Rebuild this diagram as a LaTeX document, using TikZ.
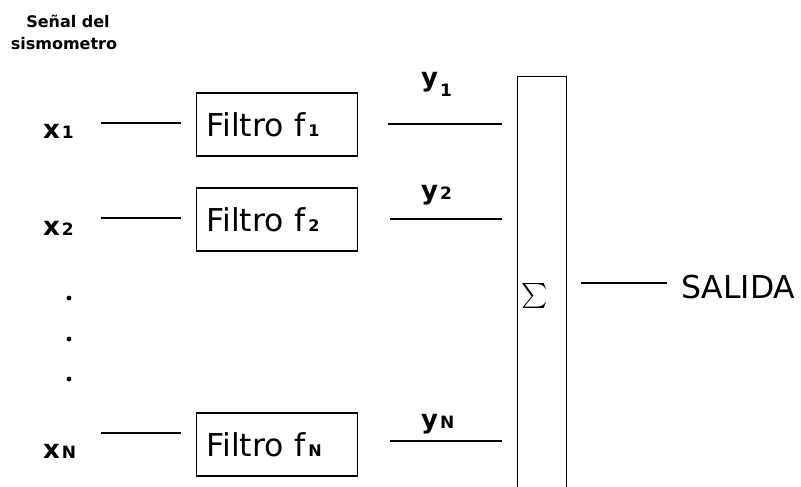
\documentclass[tikz,border=0pt]{standalone}
\usepackage{fontspec}
\setmainfont{DejaVu Sans}
\begin{document}
\begin{tikzpicture}[x=1pt,y=-1pt,
  filt/.style={draw, line width=1.2pt, minimum height=63pt, text width=141pt,
    inner xsep=10pt, inner ysep=0pt, align=left,
    font=\fontsize{31.5}{36}\selectfont},
  lab/.style={font=\bfseries\fontsize{26}{30}\selectfont, inner sep=0pt, anchor=base west},
  hdr/.style={font=\bfseries\fontsize{16}{19}\selectfont, inner sep=0pt, anchor=base},
  conn/.style={line width=1.1pt},
  boxline/.style={line width=1.3pt}]
\useasboundingbox (0,0) rectangle (801,487);
\newcommand{\fsub}[1]{\kern3pt{\bfseries\fontsize{16}{18}\selectfont #1}}
\newcommand{\lsub}[1]{\kern2pt{\fontsize{17}{19}\selectfont #1}}

% header
\node[hdr] (h1) at (68,28) {Señal del};
\node[hdr] (h2) at (64,50) {sismometro};

% input labels
\node[lab] (x1) at (43,138) {x\lsub{1}};
\node[lab] (x2) at (43,235) {x\lsub{2}};
\node[lab] (xN) at (43,458) {x\lsub{N}};

% dots
\fill (69,298) circle[radius=2.4pt];
\fill (69,339) circle[radius=2.4pt];
\fill (69,379) circle[radius=2.4pt];

% filter boxes
\node[filt] (f1) at (277,124.5) {Filtro f\fsub{1}};
\node[filt] (f2) at (277,219.5) {Filtro f\fsub{2}};
\node[filt] (fN) at (277,444.5) {Filtro f\fsub{N}};

% input connectors
\coordinate (i1a) at (101,123); \coordinate (i1b) at (181,123);
\coordinate (i2a) at (101,218); \coordinate (i2b) at (181,218);
\coordinate (iNa) at (101,433); \coordinate (iNb) at (181,433);
\draw[conn] (i1a) -- (i1b);
\draw[conn] (i2a) -- (i2b);
\draw[conn] (iNa) -- (iNb);

% output connectors
\coordinate (o1a) at (388,124); \coordinate (o1b) at (502,124);
\coordinate (o2a) at (390,219); \coordinate (o2b) at (502,219);
\coordinate (oNa) at (390,441); \coordinate (oNb) at (502,441);
\draw[conn] (o1a) -- (o1b);
\draw[conn] (o2a) -- (o2b);
\draw[conn] (oNa) -- (oNb);

% output labels
\node[lab] (y1) at (421,86) {y\kern2pt\raisebox{-10pt}{\fontsize{17}{19}\selectfont 1}};
\node[lab] (y2) at (421,199) {y\lsub{2}};
\node[lab] (yN) at (421,428) {y\lsub{N}};

% summation box (open at bottom)
\node[minimum width=48pt, minimum height=410pt, inner sep=0pt] (sumbox) at (542,282) {};
\draw[boxline] (sumbox.south west) -- (sumbox.north west) -- (sumbox.north east) -- (sumbox.south east);
\node[inner sep=0pt] (sig) at (535,296) {\scalebox{2.5}{$\sum$}};

% output
\coordinate (sa) at (581,283); \coordinate (sb) at (667,283);
\draw[conn] (sa) -- (sb);
\node[font=\fontsize{31.5}{36}\selectfont, inner sep=0pt, anchor=base west] (out) at (681,298) {SALIDA};
\end{tikzpicture}
\end{document}
